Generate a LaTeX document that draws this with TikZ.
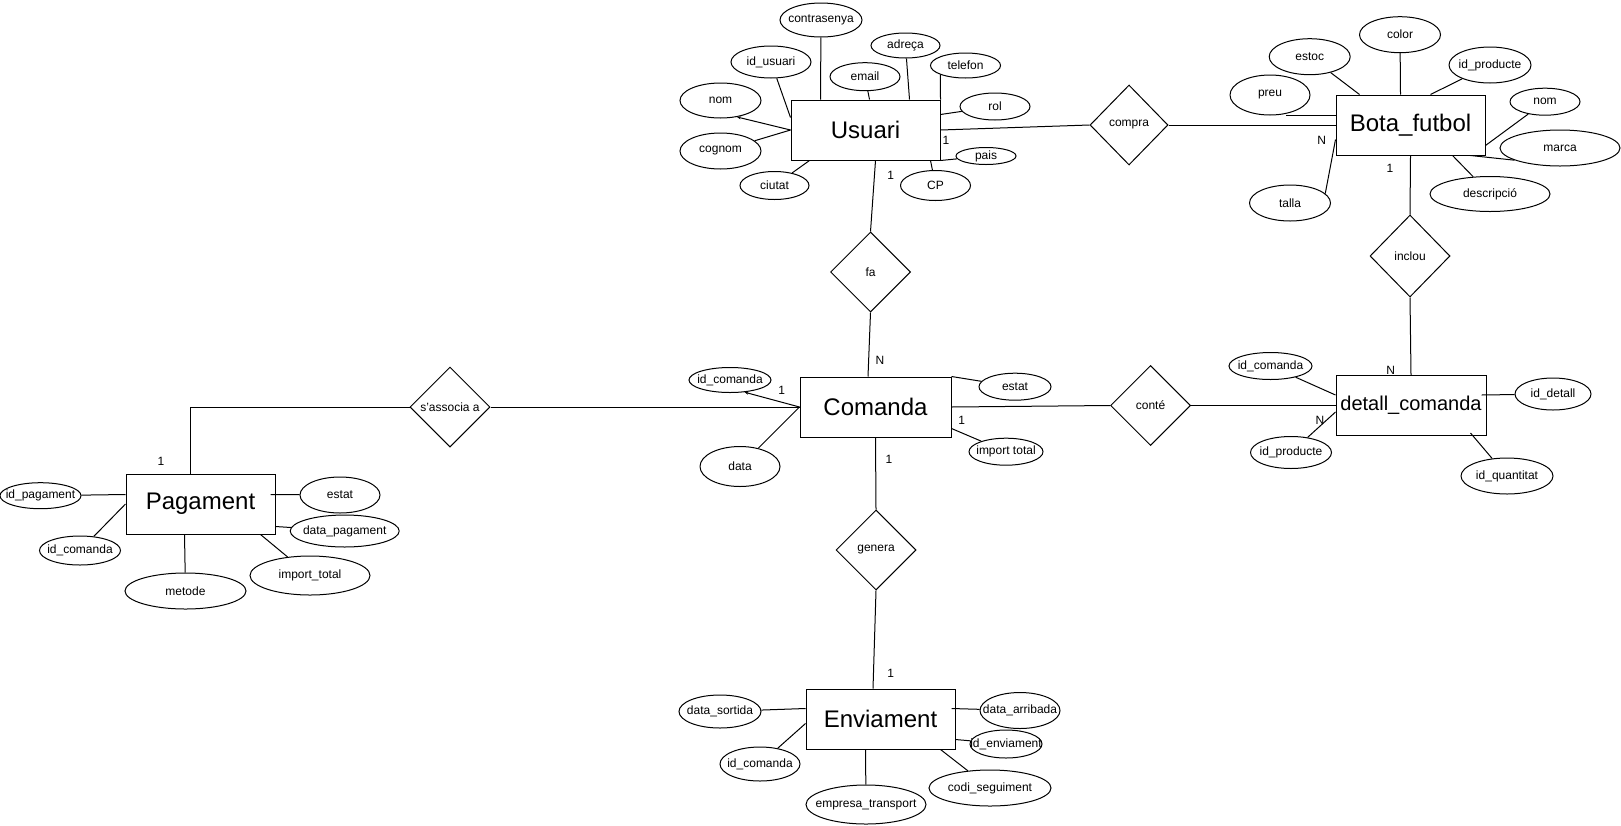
\documentclass[tikz,border=0pt]{standalone}
\usepackage{fontspec}
\setmainfont{Liberation Sans}
\usetikzlibrary{shapes.geometric,arrows.meta}

\begin{document}
\begin{tikzpicture}[x=1pt,y=-1pt,line width=1pt,
        font=\fontsize{12}{14}\selectfont,
        entitat/.style={draw,rectangle,minimum width=149pt,minimum height=60pt,inner sep=0pt,font=\fontsize{24}{28}\selectfont},
        relacio/.style={draw,diamond,minimum width=80pt,minimum height=80pt,inner sep=0pt},
        atribut/.style={draw,ellipse,inner sep=0pt},
        mida/.style n args={2}{minimum width=#1pt,minimum height=#2pt},
        punta/.style={-{Stealth[length=4pt,width=3pt]}}]
        \path[use as bounding box,fill=white] (0,0) rectangle (1621,825);

        \node[entitat] (usuari) at (865.5,130) {Usuari};
        \node[entitat] (bota) at (1410.5,125) {Bota\_futbol};
        \node[entitat,minimum width=151pt] (comanda) at (875.5,407) {Comanda};
        \node[entitat,minimum width=150pt,font=\fontsize{20}{24}\selectfont] (detall) at (1411,405.5) {detall\_comanda};
        \node[entitat] (pagament) at (200.5,504) {Pagament};
        \node[entitat] (enviament) at (880.5,719) {Enviament};

        \node[relacio,minimum width=78pt] (compra) at (1129,125) {compra};
        \node[relacio] (fa) at (870.5,272) {fa};
        \node[relacio] (sassocia) at (450,407) {s'associa a};
        \node[relacio] (conte) at (1150.5,405.5) {conté};
        \node[relacio,minimum height=82pt] (inclou) at (1410,256) {inclou};
        \node[relacio] (genera) at (876,550) {genera};

        \node[atribut,mida={82}{34},label=center:contrasenya] (contrasenya) at (821,20) {};
        \node[atribut,mida={80}{32},label=center:id\_usuari] (idusuari) at (771,62) {};
        \node[atribut,mida={81}{35},label=center:nom] (nom) at (720.5,100.5) {};
        \node[atribut,mida={81}{36},label=center:cognom] (cognom) at (720.5,151) {};
        \node[atribut,mida={69}{28},label=center:ciutat] (ciutat) at (774.5,185.5) {};
        \node[atribut,mida={70}{28},label=center:email] (email) at (865,76.7) {};
        \node[atribut,mida={69}{25},label=center:adreça] (adreca) at (905.5,45.5) {};
        \node[atribut,mida={70}{25},label=center:telefon] (telefon) at (965.5,65.5) {};
        \node[atribut,mida={70}{27},label=center:rol] (rol) at (995,106.5) {};
        \node[atribut,mida={60}{17},label=center:pais] (pais) at (986,156) {};
        \node[atribut,mida={70}{30},label=center:CP] (cp) at (935.5,185.5) {};

        \node[atribut,mida={80}{40},label=center:preu] (preu) at (1270,95) {};
        \node[atribut,mida={81}{36},label=center:estoc] (estoc) at (1309.7,56.7) {};
        \node[atribut,mida={81}{36},label=center:color] (color) at (1400,34.7) {};
        \node[atribut,mida={82}{36},label=center:id\_producte] (idproducte) at (1490,65) {};
        \node[atribut,mida={70}{27},label=center:nom] (nombota) at (1545,101.7) {};
        \node[atribut,mida={120}{36},label=center:marca] (marca) at (1560,148) {};
        \node[atribut,mida={120}{35},label=center:descripció] (descripcio) at (1490,194) {};
        \node[atribut,mida={81}{36},label=center:talla] (talla) at (1290,203) {};

        \node[atribut,mida={82}{25},label=center:id\_comanda] (idcomanda) at (730,380) {};
        \node[atribut,mida={80}{40},label=center:data] (data) at (740,466.5) {};
        \node[atribut,mida={72}{27},label=center:estat] (estat) at (1015,386.7) {};
        \node[atribut,mida={74}{27},label=center:import total] (importtotal) at (1006,451.7) {};

        \node[atribut,mida={83}{27},label=center:id\_comanda] (idcomandadet) at (1270.5,366) {};
        \node[atribut,mida={81}{32},label=center:id\_producte] (idproductedet) at (1291,452.5) {};
        \node[atribut,mida={76}{32},label=center:id\_detall] (iddetall) at (1553,394) {};
        \node[atribut,mida={92}{36},label=center:id\_quantitat] (idquantitat) at (1507,476) {};

        \node[atribut,mida={81}{26},label=center:id\_pagament] (idpagament) at (40.5,495.7) {};
        \node[atribut,mida={81}{29},label=center:id\_comanda] (idcomandapag) at (80,550.5) {};
        \node[atribut,mida={121}{36},label=center:metode] (metode) at (185.5,591) {};
        \node[atribut,mida={120}{39},label=center:import\_total] (importtotalpag) at (310,575.5) {};
        \node[atribut,mida={80}{36},label=center:estat] (estatpag) at (340,495) {};
        \node[atribut,mida={109}{32},label=center:data\_pagament] (datapagament) at (344.7,531) {};

        \node[atribut,mida={82}{33},label=center:data\_sortida] (datasortida) at (720,711.5) {};
        \node[atribut,mida={80}{34},label=center:id\_comanda] (idcomandaenv) at (760,764) {};
        \node[atribut,mida={120}{39},label=center:empresa\_transport] (empresa) at (866,804.5) {};
        \node[atribut,mida={122}{36},label=center:codi\_seguiment] (codi) at (990,788) {};
        \node[atribut,mida={80}{36},label=center:data\_arribada] (dataarribada) at (1020,710.5) {};
        \node[atribut,mida={72}{28},label=center:id\_enviament] (idenviament) at (1006,744) {};

        \node (c1) at (946,140) {1};
        \node (c2) at (890.7,175) {1};
        \node (c3) at (880,360.7) {N};
        \node (c4) at (781.7,390.7) {1};
        \node (c5) at (961.7,420) {1};
        \node (c6) at (889,459) {1};
        \node (c7) at (1320,420) {N};
        \node (c8) at (1390.7,370.7) {N};
        \node (c9) at (1321.7,140) {N};
        \node (c10) at (1390,168.3) {1};
        \node (c11) at (161,461) {1};
        \node (c12) at (890.7,673.3) {1};

        \draw (usuari.east) -- (compra.west);
        \draw (compra.east) -- (bota.west);
        \draw ([xshift=10]usuari.south) -- (fa.north);
        \draw (fa.south) -- ([xshift=-7.5]comanda.north);
        \draw (bota.south) -- (inclou.north);
        \draw (inclou.south) -- (detall.north);
        \draw (comanda.east) -- (conte.west);
        \draw (conte.east) -- (detall.west);
        \draw (sassocia.east) -- (comanda.west);
        \draw ([xshift=-10]pagament.north) |- (sassocia.west);
        \draw (comanda.south) -- (genera.north);
        \draw (genera.south) -- ([xshift=-7.5]enviament.north);

        \draw ([xshift=30]usuari.north west) -- (contrasenya);
        \draw ([yshift=-18]usuari.north west) -- (idusuari);
        \draw[punta] (usuari.west) -- (nom.-45);
        \draw (usuari.west) -- (cognom);
        \draw ([xshift=19]usuari.south west) -- (ciutat);
        \draw ([xshift=79]usuari.north west) -- (email);
        \draw ([xshift=119]usuari.north west) -- (adreca);
        \draw (usuari.north east) -- (telefon.200);
        \draw ([yshift=-15]usuari.north east) -- (rol);
        \draw (usuari.south east) -- (pais);
        \draw ([xshift=-10]usuari.south east) -- (cp);

        \draw ([yshift=-21]bota.north west) -- ([xshift=16]preu.south);
        \draw ([xshift=24]bota.north west) -- (estoc);
        \draw ([xshift=65]bota.north west) -- (color);
        \draw ([xshift=95]bota.north west) -- (idproducte);
        \draw ([yshift=10]bota.south east) -- (nombota);
        \draw ([xshift=-15]bota.south east) -- (marca.195);
        \draw ([xshift=-33]bota.south east) -- (descripcio);
        \draw ([yshift=16]bota.south west) -- (talla.15);

        \draw[punta] (comanda.west) -- (idcomanda.-40);
        \draw (comanda.west) -- (data);
        \draw (comanda.north east) -- (estat);
        \draw ([yshift=9]comanda.south east) -- (importtotal);

        \draw ([yshift=-20]detall.north west) -- (idcomandadet);
        \draw ([yshift=24]detall.south west) -- (idproductedet);
        \draw ([xshift=-5,yshift=-20]detall.north east) -- (iddetall);
        \draw ([xshift=-16,yshift=3]detall.south east) -- (idquantitat);

        \draw ([yshift=-21]pagament.north west) -- (idpagament);
        \draw (pagament.west) -- (idcomandapag);
        \draw ([xshift=-16]pagament.south) -- (metode);
        \draw ([xshift=-15]pagament.south east) -- (importtotalpag);
        \draw ([xshift=-5,yshift=-21]pagament.north east) -- (estatpag);
        \draw ([yshift=8]pagament.south east) -- (datapagament);

        \draw ([yshift=-20]enviament.north west) -- (datasortida);
        \draw ([yshift=26]enviament.south west) -- (idcomandaenv);
        \draw ([xshift=-15]enviament.south) -- (empresa);
        \draw ([xshift=-15]enviament.south east) -- (codi);
        \draw ([xshift=-4,yshift=-20]enviament.north east) -- (dataarribada);
        \draw ([yshift=10]enviament.south east) -- (idenviament);
    \end{tikzpicture}
\end{document}
